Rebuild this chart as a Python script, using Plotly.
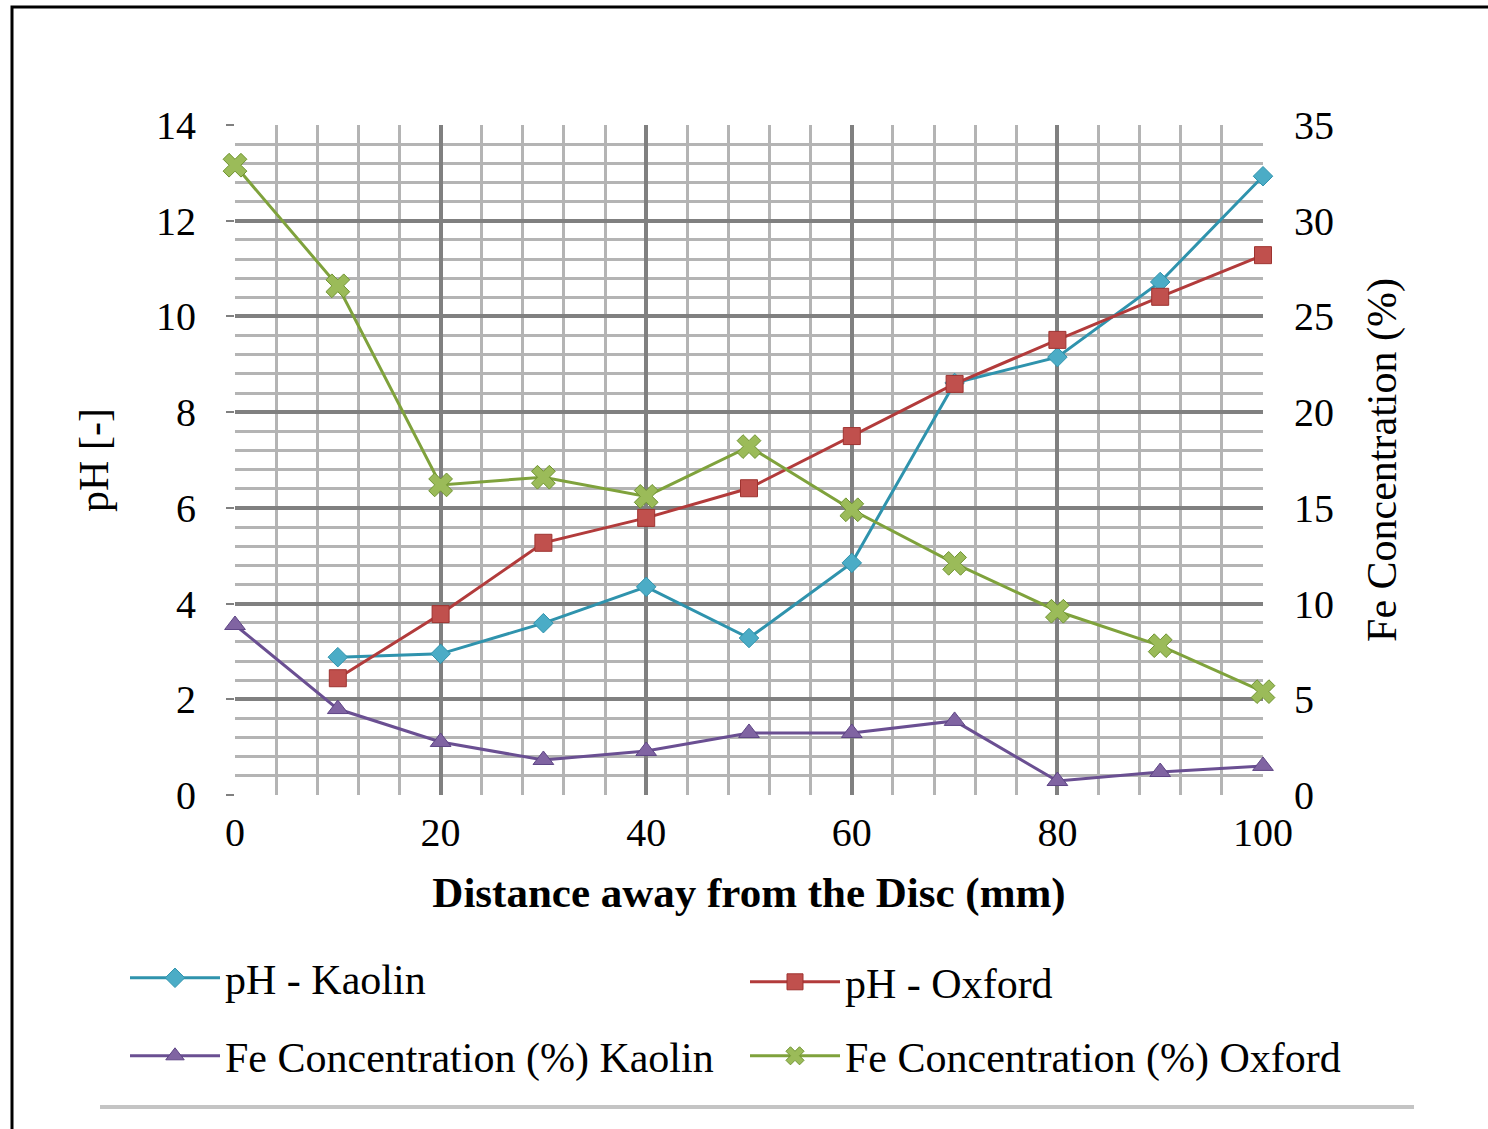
import plotly.graph_objects as go

distance = [0, 10, 20, 30, 40, 50, 60, 70, 80, 90, 100]
ph_kaolin = [None, 2.88, 2.95, 3.59, 4.35, 3.28, 4.85, 8.61, 9.15, 10.72, 12.93]
ph_oxford = [None, 2.44, 3.78, 5.27, 5.79, 6.41, 7.50, 8.59, 9.51, 10.41, 11.28]
fe_kaolin = [8.88, 4.49, 2.77, 1.83, 2.30, 3.24, 3.24, 3.87, 0.73, 1.20, 1.52]
fe_oxford = [32.9, 26.6, 16.2, 16.6, 15.6, 18.2, 14.9, 12.1, 9.6, 7.8, 5.4]

FONT = "Liberation Serif"

W, H = 1488, 1129
L, R, T, B = 235, 1263, 125, 795


def px(x):
    return (x - L) / (R - L)


def py(y):
    return (B - y) / (B - T)


fig = go.Figure()

fig.add_trace(go.Scatter(
    x=distance, y=ph_kaolin, name="pH - Kaolin", mode="lines+markers",
    line=dict(color="#2f93ad", width=3),
    marker=dict(symbol="diamond", size=15, color="#4BACC6", line=dict(color="#2f93ad", width=1)),
    cliponaxis=False, legend="legend", showlegend=True))
fig.add_trace(go.Scatter(
    x=distance, y=ph_oxford, name="pH - Oxford", mode="lines+markers",
    line=dict(color="#b23b3b", width=3),
    marker=dict(symbol="square", size=17, color="#C0504D", line=dict(color="#9e3330", width=1)),
    cliponaxis=False, legend="legend2", showlegend=True))
fig.add_trace(go.Scatter(
    x=distance, y=fe_kaolin, name="Fe Concentration (%) Kaolin", mode="lines+markers",
    yaxis="y2",
    line=dict(color="#6a4f92", width=3),
    marker=dict(symbol="triangle-up", size=18, color="#8064A2", line=dict(color="#5e4585", width=1)),
    cliponaxis=False, legend="legend3", showlegend=True))
fig.add_trace(go.Scatter(
    x=distance, y=fe_oxford, name="Fe Concentration (%) Oxford", mode="lines+markers",
    yaxis="y2",
    line=dict(color="#7fa23c", width=3),
    marker=dict(symbol="x", size=21, color="#9BBB59", line=dict(color="#6f9430", width=1)),
    cliponaxis=False, legend="legend4", showlegend=True))

tickfont = dict(family=FONT, size=40, color="black")
legfont = dict(family=FONT, size=42, color="black")


def leg(xpix, ypix):
    return dict(
        orientation="h", x=px(xpix), xanchor="left", y=py(ypix), yanchor="middle",
        font=legfont, itemwidth=90, bgcolor="rgba(0,0,0,0)", visible=True,
    )


fig.update_layout(
    width=W, height=H,
    showlegend=True,
    margin=dict(l=L, r=W - R, t=T, b=H - B, autoexpand=False),
    paper_bgcolor="white", plot_bgcolor="white",
    font=dict(family=FONT, color="black"),
    xaxis=dict(
        range=[0, 100], dtick=20, tick0=0,
        showgrid=True, gridcolor="#808080", gridwidth=3.5,
        minor=dict(dtick=4, showgrid=True, gridcolor="#b4b4b4", gridwidth=3),
        zeroline=False, showline=False,
        tickfont=tickfont, ticklabelstandoff=10,
        title=dict(text="<b>Distance away from the Disc (mm)</b>",
                   font=dict(family=FONT, size=43, color="black"), standoff=22),
    ),
    yaxis=dict(
        range=[0, 14], dtick=2, tick0=0,
        showgrid=True, gridcolor="#808080", gridwidth=3.5,
        minor=dict(dtick=0.4, showgrid=True, gridcolor="#b4b4b4", gridwidth=3),
        zeroline=False, showline=False,
        ticks="outside", ticklen=8, tickcolor="#808080", tickwidth=2,
        tickfont=tickfont, ticklabelstandoff=22,
        title=dict(text="pH [-]", font=dict(family=FONT, size=42, color="black"), standoff=34),
    ),
    yaxis2=dict(
        range=[0, 35], dtick=5, tick0=0, overlaying="y", side="right",
        showgrid=False, zeroline=False, showline=False,
        tickfont=tickfont, ticklabelstandoff=30,
        title=dict(text="Fe Concentration (%)", font=dict(family=FONT, size=42, color="black"), standoff=33),
    ),
    legend=leg(125, 978),
    legend2=leg(745, 982),
    legend3=leg(125, 1056),
    legend4=leg(745, 1056),
    shapes=[
        dict(type="rect", xref="paper", yref="paper",
             x0=px(12), x1=px(1500), y0=py(1140), y1=py(7),
             line=dict(color="black", width=3), fillcolor="rgba(0,0,0,0)", layer="below"),
        dict(type="line", xref="paper", yref="paper",
             x0=px(100), x1=px(1414), y0=py(1107), y1=py(1107),
             line=dict(color="#c4c4c4", width=4)),
    ],
)

fig.write_html("out.html")
